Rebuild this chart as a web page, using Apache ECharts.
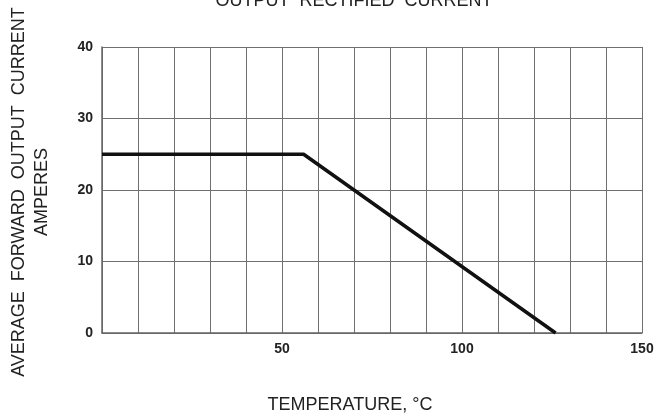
<!DOCTYPE html>
<html>
<head>
<meta charset="utf-8">
<script src="https://cdn.jsdelivr.net/npm/echarts@6/dist/echarts.min.js"></script>
<style>html,body{margin:0;padding:0;background:#fff}#c{width:663px;height:420px}</style>
</head>
<body>
<div id="c"></div>
<script>
var temperature = [0, 56, 126];
var current = [25, 25, 0];
var xLabels = [50, 100, 150];
var yLabels = [0, 10, 20, 30, 40];
var titleText = 'OUTPUT  RECTIFIED  CURRENT';
var xName = 'TEMPERATURE, \u00B0C';
var yName1 = 'AVERAGE  FORWARD  OUTPUT  CURRENT';
var yName2 = 'AMPERES';

var chart = echarts.init(document.getElementById('c'), null, {renderer: 'canvas'});
var F = '"Liberation Sans", Arial, sans-serif';
chart.setOption({
  animation: false,
  backgroundColor: '#fff',
  grid: {left: 102, right: 21, top: 47, bottom: 87, containLabel: false},
  graphic: [
    {type: 'text', x: 354, y: 1, style: {text: titleText, font: '18px ' + F, fill: '#222', align: 'center', verticalAlign: 'middle'}},
    {type: 'text', x: 350, y: 405, style: {text: xName, font: '18px ' + F, fill: '#222', align: 'center', verticalAlign: 'middle'}},
    {type: 'text', x: 19, y: 192, rotation: Math.PI / 2, style: {text: yName1, font: '18px ' + F, fill: '#222', align: 'center', verticalAlign: 'middle'}},
    {type: 'text', x: 42, y: 192, rotation: Math.PI / 2, style: {text: yName2, font: '18px ' + F, fill: '#222', align: 'center', verticalAlign: 'middle'}}
  ],
  xAxis: {
    type: 'value', min: 0, max: 150, interval: 10,
    axisLine: {show: true, lineStyle: {color: '#666', width: 1.5}},
    axisTick: {show: false},
    axisLabel: {
      margin: 9, color: '#222', fontFamily: F, fontWeight: 'bold', fontSize: 14,
      formatter: function (v) { return xLabels.indexOf(v) >= 0 ? String(v) : ''; }
    },
    splitLine: {show: true, lineStyle: {color: '#6f6f6f', width: 1}}
  },
  yAxis: {
    type: 'value', min: 0, max: 40, interval: 10,
    axisLine: {show: true, lineStyle: {color: '#666', width: 1.5}},
    axisTick: {show: false},
    axisLabel: {
      margin: 9, color: '#222', fontFamily: F, fontWeight: 'bold', fontSize: 14,
      formatter: function (v) { return yLabels.indexOf(v) >= 0 ? String(v) : ''; }
    },
    splitLine: {show: true, lineStyle: {color: '#6f6f6f', width: 1}}
  },
  series: [{
    type: 'line',
    data: temperature.map(function (t, i) { return [t, current[i]]; }),
    showSymbol: false,
    symbol: 'none',
    lineStyle: {color: '#111', width: 3.5},
    z: 5
  }]
});
</script>
</body>
</html>
